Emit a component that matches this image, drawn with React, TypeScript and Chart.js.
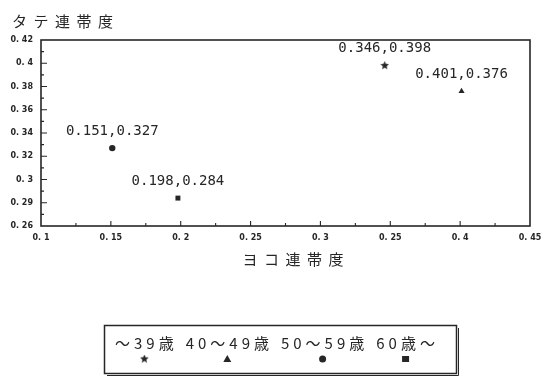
import React, { useEffect, useRef } from 'react';
import { Chart, registerables } from 'chart.js';

Chart.register(...registerables);

// ---- data ----
const yAxisTitle = 'タテ連帯度';
const xAxisTitle = 'ヨコ連帯度';
const groups = ['～39歳', '40～49歳', '50～59歳', '60歳～'];
const xValues = [0.346, 0.401, 0.151, 0.198];
const yValues = [0.398, 0.376, 0.327, 0.284];
const markerStyles = ['star', 'triangle', 'circle', 'rect'];
const xTickLabels = ['0. 1', '0. 15', '0. 2', '0. 25', '0. 3', '0. 25', '0. 4', '0. 45'];
const yTickLabels = ['0. 26', '0. 29', '0. 3', '0. 32', '0. 34', '0. 36', '0. 38', '0. 4', '0. 42'];
const xMin = 0.1, xMax = 0.45, xStep = 0.05;
const yMin = 0.26, yMax = 0.42, yStep = 0.02;

const INK = '#262626';

function makeStar(size: number): HTMLCanvasElement {
  const c = document.createElement('canvas');
  c.width = size; c.height = size;
  const g = c.getContext('2d')!;
  const cx = size / 2, cy = size / 2, R = size / 2, r = R * 0.45;
  g.beginPath();
  for (let i = 0; i < 10; i++) {
    const rad = i % 2 === 0 ? R : r;
    const a = -Math.PI / 2 + (i * Math.PI) / 5;
    const px = cx + rad * Math.cos(a), py = cy + rad * Math.sin(a);
    if (i === 0) g.moveTo(px, py); else g.lineTo(px, py);
  }
  g.closePath();
  g.fillStyle = INK;
  g.fill();
  return c;
}

function drawMarker(ctx: CanvasRenderingContext2D, style: any, x: number, y: number) {
  ctx.save();
  ctx.fillStyle = INK;
  ctx.strokeStyle = INK;
  if (style instanceof HTMLCanvasElement) {
    ctx.drawImage(style, x - style.width / 2, y - style.height / 2);
  } else if (style === 'triangle') {
    ctx.beginPath();
    ctx.moveTo(x, y - 4);
    ctx.lineTo(x + 4, y + 3);
    ctx.lineTo(x - 4, y + 3);
    ctx.closePath();
    ctx.fill();
  } else if (style === 'circle') {
    ctx.beginPath();
    ctx.arc(x, y, 3.5, 0, Math.PI * 2);
    ctx.fill();
  } else {
    ctx.fillRect(x - 3.5, y - 3, 7, 6);
  }
  ctx.restore();
}

export default function App() {
  const ref = useRef<HTMLCanvasElement | null>(null);

  useEffect(() => {
    if (!ref.current) return;
    const star = makeStar(9);
    const styles: any[] = markerStyles.map((s) => (s === 'star' ? star : s));

    const decor = {
      id: 'decor',
      afterDraw(chart: any) {
        const ctx: CanvasRenderingContext2D = chart.ctx;
        const { left, right, top, bottom } = chart.chartArea;
        const xs = chart.scales.x;
        const ys = chart.scales.y;
        ctx.save();
        // frame
        ctx.strokeStyle = INK;
        ctx.lineWidth = 1.6;
        ctx.strokeRect(left, top, right - left, bottom - top);
        // inward ticks
        ctx.lineWidth = 1.1;
        ctx.beginPath();
        const nY = Math.round((yMax - yMin) / (yStep / 2));
        for (let i = 1; i < nY; i++) {
          const v = yMin + (i * yStep) / 2;
          const py = ys.getPixelForValue(v);
          const len = i % 2 === 0 ? 6 : 3;
          ctx.moveTo(left, py);
          ctx.lineTo(left + len, py);
        }
        const nX = Math.round((xMax - xMin) / (xStep / 2));
        for (let i = 1; i < nX; i++) {
          const v = xMin + (i * xStep) / 2;
          const px = xs.getPixelForValue(v);
          const len = i % 2 === 0 ? 5 : 3;
          ctx.moveTo(px, bottom);
          ctx.lineTo(px, bottom - len);
        }
        ctx.stroke();

        // data labels
        ctx.font = '14px "DejaVu Sans Mono"';
        ctx.fillStyle = INK;
        ctx.textBaseline = 'middle';
        ctx.textAlign = 'left';
        chart.data.datasets.forEach((ds: any, di: number) => {
          const meta = chart.getDatasetMeta(di);
          meta.data.forEach((el: any, j: number) => {
            const d = ds.data[j];
            const a = d.x.toFixed(3);
            const b = d.y.toFixed(3);
            const wa = ctx.measureText(a).width;
            const wc = ctx.measureText(',').width;
            const sx = el.x - wa - wc / 2;
            ctx.fillText(a + ',' + b, sx, el.y - 17);
          });
        });

        // axis titles
        ctx.font = '15px "Noto Sans CJK JP"';
        (ctx as any).letterSpacing = '6.5px';
        ctx.textAlign = 'left';
        ctx.textBaseline = 'middle';
        ctx.fillText(yAxisTitle, 12, 21);
        const wt = ctx.measureText(xAxisTitle).width - 6.5;
        ctx.fillText(xAxisTitle, 293 - wt / 2, 259);
        (ctx as any).letterSpacing = '0px';

        // legend box
        const bx = 104, by = 325, bw = 352, bh = 48;
        ctx.lineWidth = 1.5;
        ctx.strokeRect(bx + 0.5, by + 0.5, bw, bh);
        ctx.lineWidth = 1;
        ctx.beginPath();
        ctx.moveTo(bx + bw + 2.5, by + 3);
        ctx.lineTo(bx + bw + 2.5, by + bh + 2.5);
        ctx.lineTo(bx + 3, by + bh + 2.5);
        ctx.stroke();

        ctx.font = '15px "Noto Sans CJK JP"';
        (ctx as any).letterSpacing = '4px';
        ctx.textBaseline = 'middle';
        let cx = bx + 11;
        chart.data.datasets.forEach((ds: any, di: number) => {
          const w = ctx.measureText(ds.label).width - 4;
          ctx.fillText(ds.label, cx, by + 18);
          drawMarker(ctx, styles[di], cx + w / 2, by + 34);
          cx += w + 12;
        });
        (ctx as any).letterSpacing = '0px';
        ctx.restore();
      },
    };

    const chart = new Chart(ref.current, {
      type: 'scatter',
      data: {
        datasets: groups.map((g, i) => ({
          label: g,
          data: [{ x: xValues[i], y: yValues[i] }],
          pointStyle: styles[i],
          pointRadius: markerStyles[i] === 'circle' ? 3.2 : 3.5,
          backgroundColor: INK,
          borderColor: INK,
          borderWidth: 0,
        })),
      },
      options: {
        responsive: false,
        animation: false,
        events: [],
        layout: { padding: { top: 40, right: 22, bottom: 0, left: 0 } },
        plugins: {
          legend: { display: false },
          tooltip: { enabled: false },
          title: { display: false },
        },
        scales: {
          x: {
            type: 'linear',
            min: xMin,
            max: xMax,
            afterFit: (s: any) => { s.height = 150; },
            grid: { display: false, drawTicks: false },
            border: { display: false },
            ticks: {
              stepSize: xStep,
              autoSkip: false,
              maxRotation: 0,
              padding: 7,
              color: INK,
              font: { family: 'DejaVu Sans', size: 8, weight: 'bold' },
              callback: (v: any) => xTickLabels[Math.round((Number(v) - xMin) / xStep)] ?? '',
            },
          },
          y: {
            type: 'linear',
            min: yMin,
            max: yMax,
            afterFit: (s: any) => { s.width = 41; },
            grid: { display: false, drawTicks: false },
            border: { display: false },
            ticks: {
              stepSize: yStep,
              autoSkip: false,
              padding: 8,
              color: INK,
              font: { family: 'DejaVu Sans', size: 8, weight: 'bold' },
              callback: (v: any) => yTickLabels[Math.round((Number(v) - yMin) / yStep)] ?? '',
            },
          },
        },
      },
      plugins: [decor],
    });
    return () => chart.destroy();
  }, []);

  return (
    <div style={{ position: 'absolute', left: 0, top: 0, width: 552, height: 376, background: '#fff' }}>
      <canvas ref={ref} width={552} height={376} />
    </div>
  );
}
